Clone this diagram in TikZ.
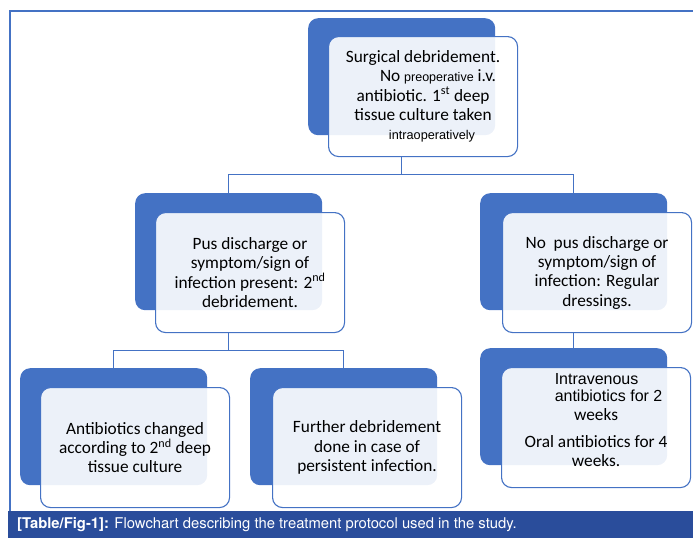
\documentclass[tikz,border=0pt]{standalone}
\usepackage{fontspec}
\setmainfont{Carlito}
\newfontfamily\arialf{Liberation Sans}
\newfontfamily\capf{TeX Gyre Heros}
\definecolor{boxblue}{HTML}{4472C4}
\definecolor{capblue}{HTML}{2A4D9B}
\newcommand\boxfont{\fontsize{17.3}{19.3}\selectfont}
\begin{document}
\begin{tikzpicture}[x=1pt,y=-1pt,
	darkbox/.style={fill=boxblue,rounded corners=10pt,minimum width=187pt,minimum height=117pt,anchor=north west,inner sep=0pt},
	lightbox/.style={draw=boxblue,line width=1.1pt,fill=white,fill opacity=0.9,text opacity=1,rounded corners=10pt,minimum width=189pt,minimum height=120pt,anchor=north west,inner sep=0pt,align=center,font=\boxfont},
	conn/.style={draw=boxblue,line width=1.2pt}]
		\useasboundingbox(0,0)rectangle(693,538);
		% frame and caption bar
		\draw[boxblue,line width=1.5pt](10,511)--(10,11)--(693,11);
		\fill[capblue](8,511)rectangle(693,538);
		\node(caption)[anchor=base west,text=white,inner sep=0pt]at(17,528){\capf\fontsize{14.8}{17}\selectfont\textbf{[Table/Fig-1]:} Flowchart describing the treatment protocol used in the study.};
		% boxes
		\node(topdark)[darkbox]at(308,18){};
		\node(toplight)[lightbox]at(328,36){Surgical debridement.\\\hspace*{30pt}No {\arialf\fontsize{12.5}{15}\selectfont preoperative} i.v.\\antibiotic. 1\textsuperscript{st} deep\\tissue culture taken\\\hspace*{18pt}{\arialf\fontsize{12.7}{15}\selectfont intraoperatively}};
		\node(pusdark)[darkbox]at(135,193){};
		\node(puslight)[lightbox]at(155,212){Pus discharge or\\symptom/sign of\\infection present: 2\textsuperscript{nd}\\debridement.};
		\node(nopusdark)[darkbox]at(480,193){};
		\node(nopuslight)[lightbox]at(502,212){No\ \ pus discharge or\\symptom/sign of\\infection: Regular\\dressings.};
		\node(abxdark)[darkbox]at(20,368){};
		\node(abxlight)[lightbox]at(40,387){Antibiotics changed\\according to 2\textsuperscript{nd} deep\\tissue culture};
		\node(furtherdark)[darkbox]at(250,368){};
		\node(furtherlight)[lightbox]at(272,387){Further debridement\\done in case of\\persistent infection.};
		\node(ivdark)[darkbox]at(480,348){};
		\node(ivlight)[lightbox]at(501,367){};
		\node(ivtext)[align=center,font=\boxfont,inner sep=0pt]at([yshift=7pt]ivlight.center){\hspace*{25pt}{\arialf\fontsize{16}{15}\selectfont\begin{tabular}[b]{@{}l@{}}Intravenous\\antibiotics for 2\end{tabular}}\\weeks\\[8pt]Oral antibiotics for 4\\weeks.};
		% connectors
		\draw[conn](topdark|-toplight.south)--++(0,17)-|(pusdark.north);
		\draw[conn](topdark|-toplight.south)--++(0,17)-|(nopusdark.north);
		\draw[conn](pusdark|-puslight.south)--++(0,17)-|(abxdark.north);
		\draw[conn](pusdark|-puslight.south)--++(0,17)-|(furtherdark.north);
		\draw[conn](nopusdark|-nopuslight.south)--(ivdark.north);
	\end{tikzpicture}
\end{document}
